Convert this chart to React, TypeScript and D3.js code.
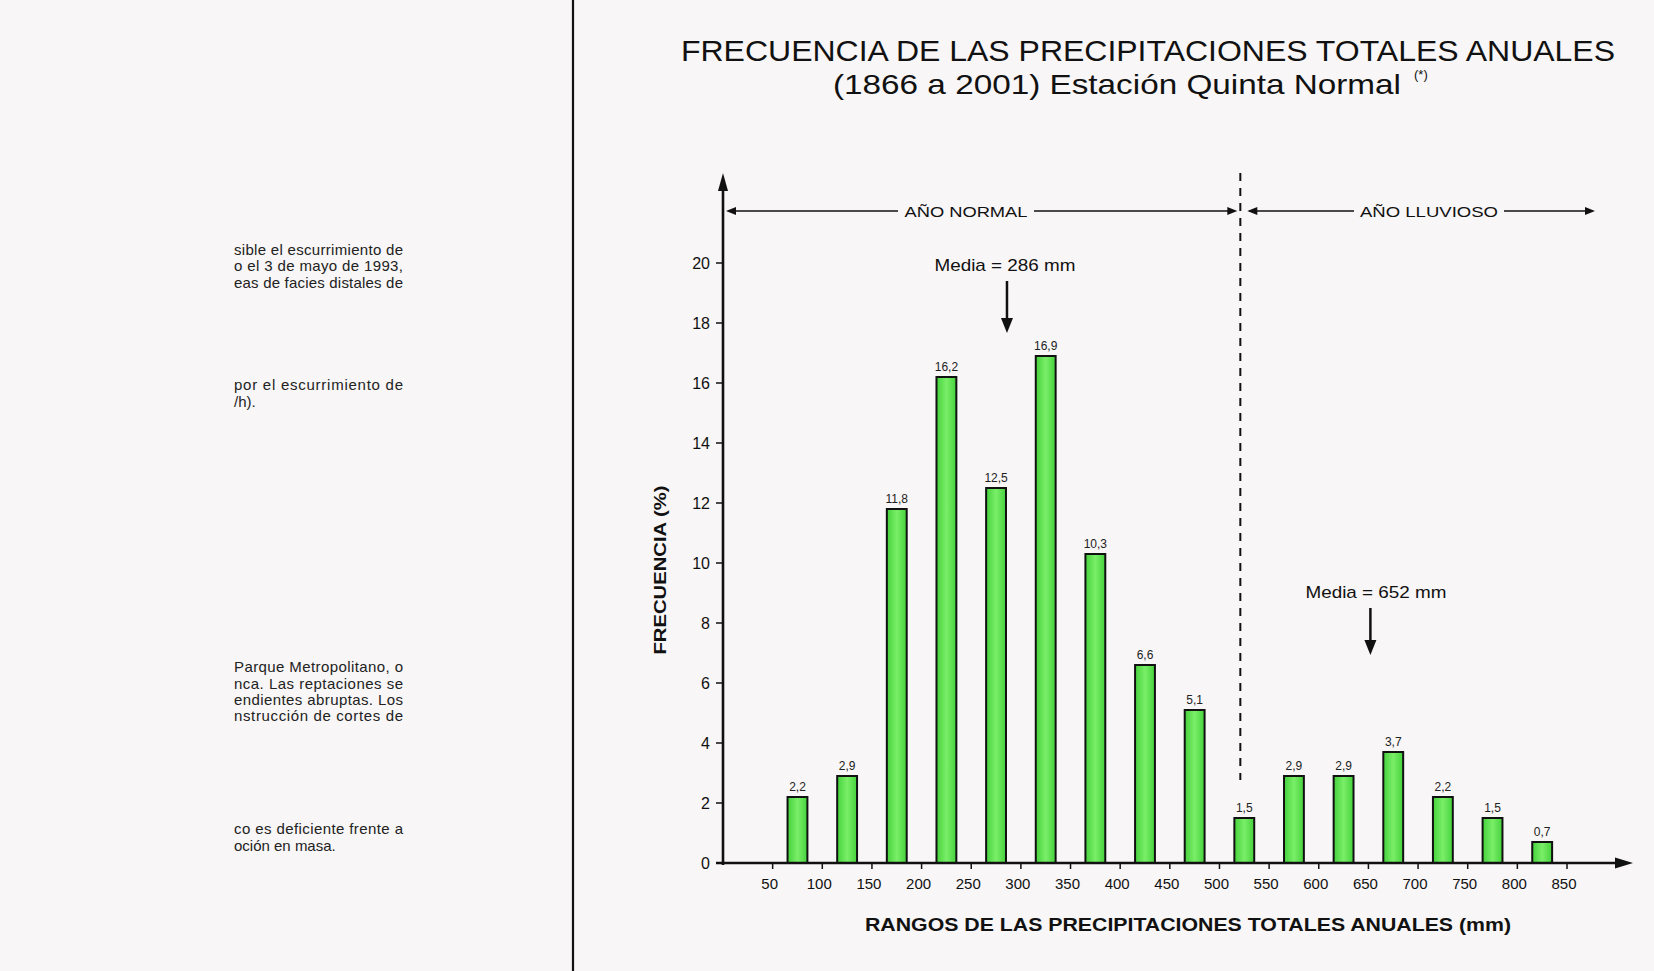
import React from 'react';
import * as d3 from 'd3';

// rangos de 50 mm, de 50 a 850 mm
const rangoInicio = [50, 100, 150, 200, 250, 300, 350, 400, 450, 500, 550, 600, 650, 700, 750, 800];
const frecuencia = [2.2, 2.9, 11.8, 16.2, 12.5, 16.9, 10.3, 6.6, 5.1, 1.5, 2.9, 2.9, 3.7, 2.2, 1.5, 0.7];
const xTicks = [50, 100, 150, 200, 250, 300, 350, 400, 450, 500, 550, 600, 650, 700, 750, 800, 850];
const yTicks = [0, 2, 4, 6, 8, 10, 12, 14, 16, 18, 20];
const mediaNormal = 286;
const mediaLluvioso = 652;
const limiteLluvioso = 520;

const textoIzq = [
  { t: 'sible el escurrimiento de', y: 255, j: true },
  { t: 'o el 3 de mayo de 1993,', y: 271, j: true },
  { t: 'eas de facies distales de', y: 288, j: true },
  { t: 'por el escurrimiento de', y: 390, j: true },
  { t: '/h).', y: 407, j: false },
  { t: 'Parque Metropolitano, o', y: 672, j: true },
  { t: 'nca. Las reptaciones se', y: 689, j: true },
  { t: 'endientes abruptas. Los', y: 705, j: true },
  { t: 'nstrucción de cortes de', y: 721, j: true },
  { t: 'co es deficiente frente a', y: 834, j: true },
  { t: 'oción en masa.', y: 851, j: false },
];

const FONT = '"Liberation Sans", Arial, Helvetica, sans-serif';

const App: React.FC = () => {
  const W = 1654;
  const H = 971;
  const x = d3.scaleLinear().domain([0, 850]).range([723, 1567]);
  const y = d3.scaleLinear().domain([0, 20]).range([863, 263]);
  const x0 = x(0);
  const y0 = y(0);
  const yTop = y(23);
  const xEnd = 1633;
  const barW = 20; // mm
  const fmt = (v: number) => v.toFixed(1).replace('.', ',');
  const yRango = 211;
  const xDiv = x(limiteLluvioso);

  const arrowH = (tx: number, ty: number, dir: number, len = 10, hw = 4) =>
    `M${tx},${ty} L${tx - dir * len},${ty - hw} L${tx - dir * len},${ty + hw} Z`;
  const arrowV = (tx: number, ty: number, dir: number, len = 14, hw = 5) =>
    `M${tx},${ty} L${tx - hw},${ty - dir * len} L${tx + hw},${ty - dir * len} Z`;

  return (
    <svg width={W} height={H} style={{ position: 'absolute', left: 0, top: 0 }} fontFamily={FONT}>
      <defs>
        <linearGradient id="verde" x1="0" x2="1" y1="0" y2="0">
          <stop offset="0%" stopColor="#45d23c" />
          <stop offset="50%" stopColor="#7aee68" />
          <stop offset="100%" stopColor="#45d23c" />
        </linearGradient>
      </defs>
      <rect width={W} height={H} fill="#f8f6f6" />

      {/* texto de la columna izquierda */}
      {textoIzq.map((l, i) => (
        <text key={i} x={234} y={l.y} fontSize={15} fill="#222"
          {...(l.j ? { textLength: 169, lengthAdjust: 'spacing' } : {})}>
          {l.t}
        </text>
      ))}
      <line x1={573} x2={573} y1={0} y2={H} stroke="#111" strokeWidth={2.2} />

      {/* titulo */}
      <text x={1148} y={61} textAnchor="middle" fontSize={29} textLength={934} lengthAdjust="spacingAndGlyphs" fill="#111">
        FRECUENCIA DE LAS PRECIPITACIONES TOTALES ANUALES
      </text>
      <text x={1117} y={94} textAnchor="middle" fontSize={28} textLength={568} lengthAdjust="spacingAndGlyphs" fill="#111">
        (1866 a 2001) Estación Quinta Normal
      </text>
      <text x={1414} y={79} fontSize={13} fill="#111">(*)</text>

      {/* barras */}
      {rangoInicio.map((r, i) => {
        const mid = r + 25;
        const v = frecuencia[i];
        return (
          <g key={r}>
            <rect x={x(mid - barW / 2)} y={y(v)} width={x(mid + barW / 2) - x(mid - barW / 2)} height={y0 - y(v)}
              fill="url(#verde)" stroke="#111" strokeWidth={2} />
            <text x={x(mid)} y={y(v) - 6} textAnchor="middle" fontSize={12} fill="#222">{fmt(v)}</text>
          </g>
        );
      })}

      {/* ejes */}
      <line x1={x0} x2={x0} y1={y0 + 2} y2={yTop + 12} stroke="#111" strokeWidth={2.6} />
      <path d={arrowV(x0, yTop, -1, 18, 5)} fill="#111" />
      <line x1={x0 - 7} x2={xEnd - 14} y1={y0} y2={y0} stroke="#111" strokeWidth={2.6} />
      <path d={arrowH(xEnd, y0, 1, 18, 5.5)} fill="#111" />

      {yTicks.map((t) => (
        <g key={t}>
          <line x1={x0 - 7} x2={x0} y1={y(t)} y2={y(t)} stroke="#111" strokeWidth={1.5} />
          <text x={x0 - 13} y={y(t)} dy="0.36em" textAnchor="end" fontSize={16} fill="#111">{t}</text>
        </g>
      ))}
      {xTicks.map((t) => (
        <g key={t}>
          <line x1={x(t)} x2={x(t)} y1={y0} y2={y0 + 6} stroke="#111" strokeWidth={1.5} />
          <text x={x(t) - 3} y={889} textAnchor="middle" fontSize={15} fill="#111">{t}</text>
        </g>
      ))}

      <text transform={`translate(666,570) rotate(-90)`} textAnchor="middle" fontSize={17} fontWeight="bold"
        textLength={169} lengthAdjust="spacingAndGlyphs" fill="#111">FRECUENCIA (%)</text>
      <text x={1188} y={931} textAnchor="middle" fontSize={18} fontWeight="bold" textLength={646}
        lengthAdjust="spacingAndGlyphs" fill="#111">RANGOS DE LAS PRECIPITACIONES TOTALES ANUALES (mm)</text>

      {/* separacion año normal / lluvioso */}
      <line x1={xDiv + 1} x2={xDiv + 1} y1={yTop} y2={780} stroke="#111" strokeWidth={2} strokeDasharray="8 7" />

      <line x1={x0 + 8} x2={898} y1={yRango} y2={yRango} stroke="#111" strokeWidth={1.4} />
      <line x1={1034} x2={xDiv - 10} y1={yRango} y2={yRango} stroke="#111" strokeWidth={1.4} />
      <path d={arrowH(x0 + 3, yRango, -1)} fill="#111" />
      <path d={arrowH(xDiv - 2, yRango, 1)} fill="#111" />
      <text x={966} y={yRango + 5.5} textAnchor="middle" fontSize={15} textLength={123}
        lengthAdjust="spacingAndGlyphs" fill="#111">AÑO NORMAL</text>

      <line x1={xDiv + 10} x2={1354} y1={yRango} y2={yRango} stroke="#111" strokeWidth={1.4} />
      <line x1={1504} x2={1587} y1={yRango} y2={yRango} stroke="#111" strokeWidth={1.4} />
      <path d={arrowH(xDiv + 8, yRango, -1)} fill="#111" />
      <path d={arrowH(1595, yRango, 1)} fill="#111" />
      <text x={1429} y={yRango + 5.5} textAnchor="middle" fontSize={15} textLength={138}
        lengthAdjust="spacingAndGlyphs" fill="#111">AÑO LLUVIOSO</text>

      {/* medias */}
      <text x={1005} y={271} textAnchor="middle" fontSize={17} textLength={141}
        lengthAdjust="spacingAndGlyphs" fill="#111">Media = {mediaNormal} mm</text>
      <line x1={x(mediaNormal)} x2={x(mediaNormal)} y1={281} y2={320} stroke="#111" strokeWidth={2.5} />
      <path d={arrowV(x(mediaNormal), 333, 1, 15, 6)} fill="#111" />

      <text x={1376} y={598} textAnchor="middle" fontSize={17} textLength={141}
        lengthAdjust="spacingAndGlyphs" fill="#111">Media = {mediaLluvioso} mm</text>
      <line x1={x(mediaLluvioso)} x2={x(mediaLluvioso)} y1={608} y2={642} stroke="#111" strokeWidth={2.5} />
      <path d={arrowV(x(mediaLluvioso), 655, 1, 15, 6)} fill="#111" />
    </svg>
  );
};

export default App;
